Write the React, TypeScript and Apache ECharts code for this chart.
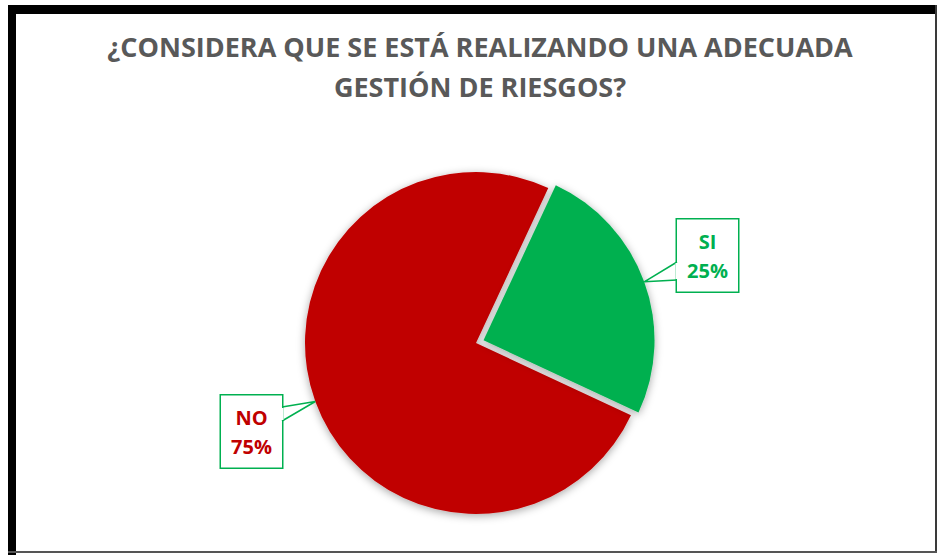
import React, { useEffect, useRef } from "react";
import * as echarts from "echarts";

const categories = ["SI", "NO"];
const values = [25, 75];
const sliceColors = ["#00B050", "#C00000"];
const explodedIndex = 0;
const titleLines = ["¿CONSIDERA QUE SE ESTÁ REALIZANDO UNA ADECUADA", "GESTIÓN DE RIESGOS?"];

const W = 937;
const H = 555;
const CX = 476;
const CY = 343;
const R = 171;
const START = 65;
const EXPLODE = 8;
const BOX_GREEN = "#00B050";
const TITLE_FONT = "'Open Sans', 'Noto Sans', 'Liberation Sans', sans-serif";

const labelBoxes = [
  { x: 677, y: 219, w: 61, h: 73, edgeX: 677, gapTop: 262, gapBottom: 280 },
  { x: 221, y: 395, w: 61, h: 73, edgeX: 282, gapTop: 407, gapBottom: 421 },
];

export default function App() {
  const ref = useRef<HTMLDivElement>(null);
  useEffect(() => {
    if (!ref.current) return;
    const chart = echarts.init(ref.current, undefined, { renderer: "svg" });
    const total = values.reduce((a, b) => a + b, 0);
    let cum = 0;
    const tails: any[] = [];
    const centers: number[][] = [];
    values.forEach((v, i) => {
      const startCw = 90 - START + (cum / total) * 360;
      const mid = startCw + (v / total) * 180;
      cum += v;
      const rad = (mid * Math.PI) / 180;
      const dx = Math.sin(rad);
      const dy = -Math.cos(rad);
      const off = i === explodedIndex ? EXPLODE : 0;
      const c = [CX + dx * off, CY + dy * off];
      centers.push(c);
      const tip = [c[0] + dx * R, c[1] + dy * R];
      const b = labelBoxes[i];
      tails.push({
        type: "polyline",
        z: 100,
        shape: { points: [[b.edgeX, b.gapTop], tip, [b.edgeX, b.gapBottom]] },
        style: { stroke: BOX_GREEN, lineWidth: 1.5, fill: null },
      });
      tails.push({
        type: "line",
        z: 101,
        shape: { x1: b.edgeX, y1: b.gapTop + 1, x2: b.edgeX, y2: b.gapBottom - 1 },
        style: { stroke: "#ffffff", lineWidth: 3 },
      });
    });

    const titleText = (text: string, y: number) => ({
      type: "text",
      z: 50,
      x: 480,
      y,
      style: {
        text,
        align: "center",
        verticalAlign: "middle",
        fontFamily: TITLE_FONT,
        fontWeight: "bold",
        fontSize: 27,
        fill: "#595959",
      },
    });

    const makeSeries = (k: number) => ({
      type: "pie",
      center: centers[k],
      radius: R,
      startAngle: START,
      clockwise: true,
      avoidLabelOverlap: false,
      silent: true,
      emphasis: { disabled: true },
      labelLine: { show: false },
      label: {
        show: true,
        position: "outside",
        formatter: (p: any) => `${p.name}\n${p.value}%`,
        fontFamily: "'Open Sans', 'Liberation Sans', sans-serif",
        fontWeight: "bold",
        fontSize: 20,
        lineHeight: 29,
        backgroundColor: "#ffffff",
        borderColor: BOX_GREEN,
        borderWidth: 1.5,
        width: 55,
        height: 58,
        padding: [7, 3],
        align: "center",
        verticalAlign: "middle",
      },
      labelLayout: (params: any) => {
        const b = labelBoxes[params.dataIndex];
        return { x: b.x + b.w / 2, y: b.y + b.h / 2, align: "center", verticalAlign: "middle" };
      },
      data: categories.map((c, i) =>
        i === k
          ? {
              name: c,
              value: values[i],
              itemStyle: {
                color: sliceColors[i],
                shadowBlur: 9,
                shadowColor: "rgba(0,0,0,0.35)",
                shadowOffsetY: 2,
              },
              label: { color: sliceColors[i] },
            }
          : {
              name: c,
              value: values[i],
              itemStyle: { color: "rgba(0,0,0,0)", shadowBlur: 0 },
              label: { show: false },
            }
      ),
    });

    const option: any = {
      animation: false,
      backgroundColor: "#ffffff",
      graphic: [
        { type: "rect", z: 50, shape: { x: 8, y: 5, width: W - 8, height: 9 }, style: { fill: "#000" } },
        { type: "rect", z: 50, shape: { x: 8, y: 5, width: 8, height: H - 5 }, style: { fill: "#000" } },
        { type: "rect", z: 50, shape: { x: W - 2, y: 5, width: 2, height: 548 }, style: { fill: "#3a3a3a" } },
        { type: "rect", z: 50, shape: { x: 8, y: 551, width: W - 8, height: 2 }, style: { fill: "#555" } },
        titleText(titleLines[0], 46),
        titleText(titleLines[1], 86),
        ...tails,
      ],
      series: [makeSeries(1), makeSeries(0)],
    };
    chart.setOption(option);
    return () => chart.dispose();
  }, []);
  return <div ref={ref} style={{ position: "absolute", left: 0, top: 0, width: W, height: H }} />;
}
